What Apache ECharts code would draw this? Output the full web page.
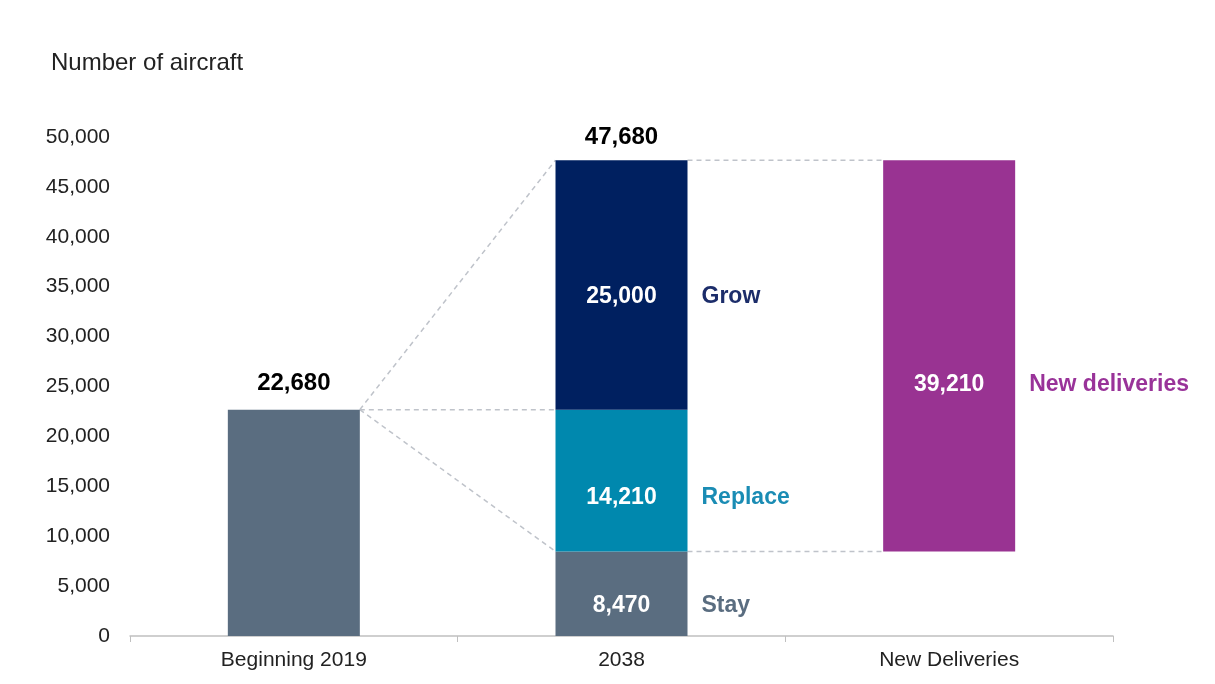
<!DOCTYPE html>
<html>
<head>
<meta charset="utf-8">
<script src="https://cdn.jsdelivr.net/npm/echarts@6/dist/echarts.min.js"></script>
<style>
  html, body { margin: 0; padding: 0; background: #fff; }
  #chart { width: 1215px; height: 684px; }
</style>
</head>
<body>
<div id="chart"></div>
<script>
// data
var categories = ['Beginning 2019', '2038', 'New Deliveries'];
var beginning = 22680;
var stay = 8470;
var replace = 14210;
var grow = 25000;
var newDeliveries = 39210;
var total2038 = stay + replace + grow;
var yTicks = [0, 5000, 10000, 15000, 20000, 25000, 30000, 35000, 40000, 45000, 50000];

var fmt = function (v) { return String(v).replace(/\B(?=(\d{3})+(?!\d))/g, ','); };
var FONT = 'Liberation Sans, Arial, sans-serif';
var BAR_W = 132;
var HALF = 0.2014; // half bar width in category units

var GREY = '#5a6d80', TEAL = '#0088ae', NAVY = '#002060', PURPLE = '#993392';

// label: value centred in the bar, name to the right of it
function sideLabel(name, nameColor, dy) {
  return {
    show: true,
    position: 'insideLeft',
    distance: 0,
    offset: [0, dy],
    formatter: function (p) { return '{v|' + fmt(p.value) + '}{n|' + name + '}'; },
    rich: {
      v: { width: BAR_W, align: 'center', color: '#fff', fontSize: 23, fontWeight: 'bold', fontFamily: FONT },
      n: { color: nameColor, fontSize: 23, fontWeight: 'bold', fontFamily: FONT, padding: [0, 0, 0, 14] }
    }
  };
}

// dashed connectors between bar edges
var links = [
  [[0.5 + HALF, beginning], [1.5 - HALF, total2038]],
  [[0.5 + HALF, beginning], [1.5 - HALF, beginning]],
  [[0.5 + HALF, beginning], [1.5 - HALF, stay]],
  [[1.5 + HALF, total2038], [2.5 - HALF, stay + newDeliveries]],
  [[1.5 + HALF, stay], [2.5 - HALF, stay]]
];
var linkSeries = links.map(function (pts) {
  return {
    type: 'line', xAxisIndex: 1, data: pts, symbol: 'none', silent: true,
    lineStyle: { color: '#bfc3ca', width: 1.5, type: [5, 4] }, z: 1
  };
});

var chart = echarts.init(document.getElementById('chart'));
chart.setOption({
  animation: false,
  title: {
    text: 'Number of aircraft', left: 46, top: 46,
    textStyle: { fontSize: 24, fontWeight: 'normal', color: '#222', fontFamily: FONT }
  },
  grid: { left: 130, right: 102, top: 137, bottom: 48 },
  xAxis: [{
    type: 'category', data: categories,
    axisLine: { lineStyle: { color: '#c0c0c0', width: 1.5 } },
    axisTick: { show: true, length: 6, lineStyle: { color: '#c0c0c0' } },
    axisLabel: { color: '#222', fontSize: 21, fontFamily: FONT, margin: 14 }
  }, {
    type: 'value', min: 0, max: 3, show: false
  }],
  yAxis: {
    type: 'value', min: yTicks[0], max: yTicks[yTicks.length - 1], interval: yTicks[1] - yTicks[0],
    axisLine: { show: false }, axisTick: { show: false }, splitLine: { show: false },
    axisLabel: { color: '#222', fontSize: 21, fontFamily: FONT, margin: 20, formatter: fmt }
  },
  series: [{
    name: 'Beginning 2019', type: 'bar', stack: 'a', barWidth: BAR_W,
    data: [beginning, '-', '-'], itemStyle: { color: GREY },
    label: { show: true, position: 'top', distance: 14, formatter: function (p) { return fmt(p.value); },
      color: '#000', fontSize: 24, fontWeight: 'bold', fontFamily: FONT }
  }, {
    name: 'Stay', type: 'bar', stack: 'a', barWidth: BAR_W,
    data: ['-', stay, '-'], itemStyle: { color: GREY },
    label: sideLabel('Stay', GREY, 12)
  }, {
    name: 'base', type: 'bar', stack: 'a', barWidth: BAR_W, silent: true,
    data: ['-', '-', stay], itemStyle: { color: 'transparent' }
  }, {
    name: 'Replace', type: 'bar', stack: 'a', barWidth: BAR_W,
    data: ['-', replace, '-'], itemStyle: { color: TEAL },
    label: sideLabel('Replace', '#1a8cb4', 17)
  }, {
    name: 'Grow', type: 'bar', stack: 'a', barWidth: BAR_W,
    data: ['-', grow, '-'], itemStyle: { color: NAVY },
    label: sideLabel('Grow', '#1c2d6a', 12)
  }, {
    name: 'New deliveries', type: 'bar', stack: 'a', barWidth: BAR_W,
    data: ['-', '-', newDeliveries], itemStyle: { color: PURPLE },
    label: sideLabel('New deliveries', '#993399', 29)
  }, {
    name: 'total', type: 'bar', stack: 'a', barWidth: BAR_W, silent: true,
    data: ['-', 0, '-'],
    label: { show: true, position: 'top', distance: 11, formatter: function () { return fmt(total2038); },
      color: '#000', fontSize: 24, fontWeight: 'bold', fontFamily: FONT }
  }].concat(linkSeries)
});
</script>
</body>
</html>
